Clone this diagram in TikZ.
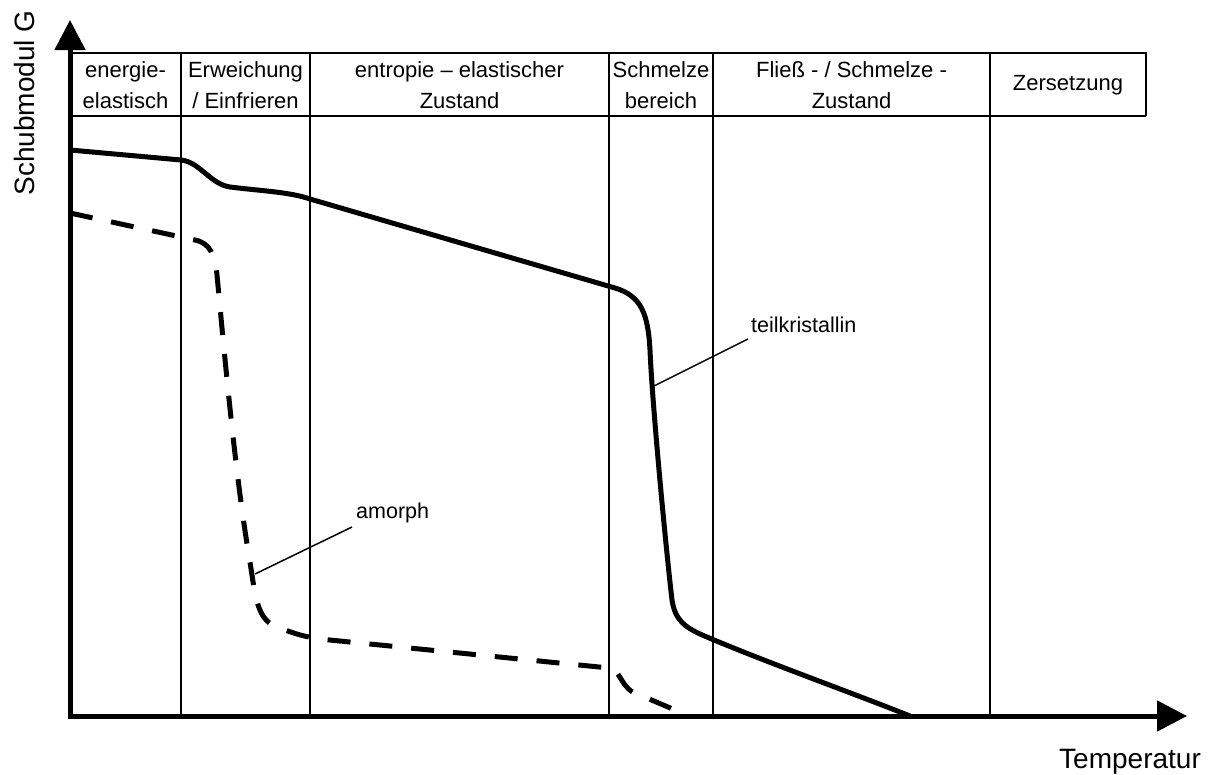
\documentclass[tikz,border=0pt]{standalone}
\usepackage{fontspec}
\setmainfont{Liberation Sans}
\usetikzlibrary{arrows.meta}
\begin{document}
\begin{tikzpicture}[x=1pt,y=-1pt,
  axisline/.style={line width=5pt,-{Triangle[length=30pt,width=30pt]}},
  gridline/.style={line width=1.8pt},
  curve/.style={line width=5pt},
  dashcurve/.style={line width=5pt,dash pattern=on 23pt off 19pt},
  leader/.style={line width=1.5pt},
  head/.style={font=\fontsize{22}{31}\selectfont,align=center,inner sep=0pt},
  lbl/.style={font=\fontsize{21.5}{26}\selectfont,inner sep=0pt},
  axlbl/.style={font=\fontsize{28}{32}\selectfont,inner sep=0pt}]
\useasboundingbox (0,0) rectangle (1223,774);
% coordinates
\coordinate (O) at (70,716);
\coordinate (tl) at (70,53);
\coordinate (tr) at (1146,53);
\coordinate (hl) at (70,116);
\coordinate (hr) at (1146,116);
% table / grid
\draw[gridline] (tl) -- (tr) -- (hr);
\draw[gridline] (hl) -- (hr);
\foreach \x/\n in {181/a,310/b,609/c,713/d,990/e}{
  \coordinate (t\n) at (\x,53);
  \coordinate (b\n) at (\x,716);
  \draw[gridline] (t\n) -- (b\n);
}
% header texts
\node[head] (h1) at (125.5,85) {energie-\\elastisch};
\node[head] (h2) at (245.5,85) {Erweichung\\/ Einfrieren};
\node[head] (h3) at (459.5,85) {entropie – elastischer\\Zustand};
\node[head] (h4) at (661,85) {Schmelze\\bereich};
\node[head] (h5) at (851.5,85) {Fließ - / Schmelze -\\Zustand};
\node[head] (h6) at (1068,85) {Zersetzung};
% curves
\draw[curve,line join=round] (70,150) -- (181,160)
  .. controls (200,162) and (210,184) .. (230,187)
  .. controls (262,191) and (290,192) .. (310,199)
  -- (615,288)
  .. controls (642,296) and (648,315) .. (650,350)
  .. controls (652,400) and (665,540) .. (672,600)
  .. controls (675,620) and (685,627) .. (700,634)
  .. controls (760,660) and (850,692) .. (910,716);
\draw[dashcurve] (70,213) -- (195,240)
  .. controls (210,243) and (215,255) .. (217,275)
  .. controls (225,360) and (235,470) .. (248,550)
  .. controls (255,590) and (255,618) .. (275,626)
  .. controls (290,632) and (300,636) .. (320,639)
  -- (609,668)
  .. controls (622,670) and (620,690) .. (640,695)
  -- (675,710);
% axes
\draw[axisline] (70,718.5) -- (70,20);
\draw[axisline] (67.5,716) -- (1187,716);
% leaders and labels
\coordinate (k1) at (654,386);
\coordinate (k2) at (748,339);
\draw[leader] (k1) -- (k2);
\node[lbl,anchor=base west] (tk) at (751,332) {teilkristallin};
\coordinate (a1) at (255,574);
\coordinate (a2) at (352,527);
\draw[leader] (a1) -- (a2);
\node[lbl,anchor=base west] (am) at (356,518) {amorph};
\node[axlbl,rotate=90] (ylab) at (24,103) {Schubmodul G};
\node[axlbl,anchor=base] (xlab) at (1130,768) {Temperatur};
\end{tikzpicture}
\end{document}
